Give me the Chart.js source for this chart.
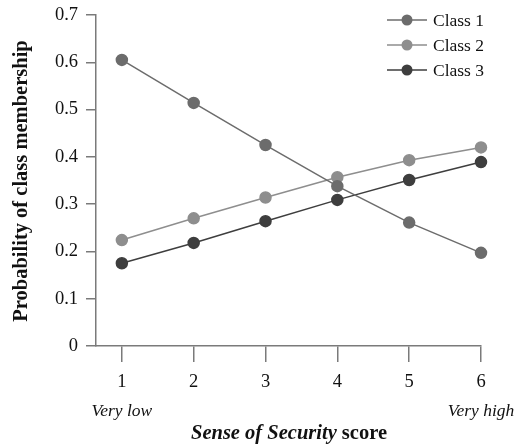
<!DOCTYPE html>
<html>
<head>
<meta charset="utf-8">
<script src="https://cdn.jsdelivr.net/npm/chart.js@4/dist/chart.umd.min.js"></script>
<style>
  html, body { margin: 0; padding: 0; background: #fff; }
  #chart { display: block; }
</style>
</head>
<body>
<canvas id="chart" width="523" height="445"></canvas>
<script>
// --- Data ---
const scores = [1, 2, 3, 4, 5, 6];
const seriesNames = ['Class 1', 'Class 2', 'Class 3'];
const class1 = [0.605, 0.514, 0.425, 0.338, 0.261, 0.197];
const class2 = [0.224, 0.270, 0.314, 0.357, 0.393, 0.420];
const class3 = [0.175, 0.218, 0.264, 0.309, 0.351, 0.389];
const yTicks = [0, 0.1, 0.2, 0.3, 0.4, 0.5, 0.6, 0.7];
const endLabels = ['Very low', 'Very high'];

const colors = ['#6c6c6c', '#8e8e8e', '#3e3e3e'];
const axisColor = '#7a7a7a';
const serif = '"Liberation Serif", "DejaVu Serif", serif';

function makeSet(name, values, color) {
    return {
        label: name,
        data: scores.map((s, i) => ({ x: s, y: values[i] })),
        borderColor: color,
        backgroundColor: color,
        pointBackgroundColor: color,
        pointBorderColor: color,
        borderWidth: 1.5,
        pointRadius: 5.5,
        pointHoverRadius: 5.5,
        tension: 0,
        clip: false
    };
}

// --- Extra text: axis titles, end labels, legend ---
const decorations = {
    id: 'decorations',
    afterDraw(chart) {
        const c = chart.ctx;
        const xs = chart.scales.x;
        c.save();
        c.fillStyle = '#111';
        c.textBaseline = 'middle';

        // end labels under the x ticks
        c.font = 'italic 17.5px ' + serif;
        c.textAlign = 'center';
        c.fillText(endLabels[0], xs.getPixelForValue(1), 411);
        c.fillText(endLabels[1], xs.getPixelForValue(6), 411);

        // x title, mixed styles
        const part1 = 'Sense of Security';
        const part2 = ' score';
        c.font = 'italic bold 20.5px ' + serif;
        const w1 = c.measureText(part1).width;
        c.font = 'bold 20.5px ' + serif;
        const w2 = c.measureText(part2).width;
        let x0 = 289 - (w1 + w2) / 2;
        c.textAlign = 'left';
        c.font = 'italic bold 20.5px ' + serif;
        c.fillText(part1, x0, 434);
        c.font = 'bold 20.5px ' + serif;
        c.fillText(part2, x0 + w1, 434);

        // y title
        c.translate(22, 181);
        c.rotate(-Math.PI / 2);
        c.textAlign = 'center';
        c.font = 'bold 20.5px ' + serif;
        c.fillText('Probability of class membership', 0, 0);
        c.restore();

        // legend
        c.save();
        chart.data.datasets.forEach((ds, i) => {
            const y = 20 + i * 25;
            c.strokeStyle = ds.borderColor;
            c.lineWidth = 1.5;
            c.beginPath();
            c.moveTo(387, y);
            c.lineTo(427, y);
            c.stroke();
            c.fillStyle = ds.pointBackgroundColor;
            c.beginPath();
            c.arc(407, y, 5.5, 0, Math.PI * 2);
            c.fill();
            c.fillStyle = '#111';
            c.font = '17.5px ' + serif;
            c.textAlign = 'left';
            c.textBaseline = 'middle';
            c.fillText(ds.label, 433, y + 1);
        });
        c.restore();
    }
};

const chart = new Chart(document.getElementById('chart'), {
    type: 'line',
    data: {
        datasets: [
            makeSet(seriesNames[0], class1, colors[0]),
            makeSet(seriesNames[1], class2, colors[1]),
            makeSet(seriesNames[2], class3, colors[2])
        ]
    },
    options: {
        responsive: false,
        animation: false,
        layout: { padding: { left: 0, right: 42, top: 15, bottom: 0 } },
        plugins: {
            legend: { display: false },
            tooltip: { enabled: false }
        },
        scales: {
            x: {
                type: 'linear',
                min: 0.64,
                max: 6,
                afterBuildTicks: (axis) => { axis.ticks = scores.map(v => ({ value: v })); },
                afterFit: (axis) => {
                    axis.height = 99;
                    axis.paddingLeft = 0;
                    axis.paddingRight = 0;
                },
                border: { display: true, color: axisColor, width: 1.5 },
                grid: { display: true, drawOnChartArea: false, drawTicks: true, tickLength: 16, color: axisColor, lineWidth: 1.5 },
                ticks: {
                    color: '#111',
                    font: { family: serif, size: 18.5 },
                    padding: 9,
                    maxRotation: 0,
                    autoSkip: false
                }
            },
            y: {
                min: 0,
                max: 0.7,
                afterBuildTicks: (axis) => { axis.ticks = yTicks.map(v => ({ value: v })); },
                afterFit: (axis) => {
                    axis.width = 96;
                    axis.paddingTop = 0;
                    axis.paddingBottom = 0;
                },
                border: { display: true, color: axisColor, width: 1.5 },
                grid: { display: true, drawOnChartArea: false, drawTicks: true, tickLength: 10, color: axisColor, lineWidth: 1.5 },
                ticks: {
                    color: '#111',
                    font: { family: serif, size: 18.5 },
                    padding: 8,
                    callback: (v) => v === 0 ? '0' : v.toFixed(1)
                }
            }
        }
    },
    plugins: [decorations]
});
</script>
</body>
</html>
